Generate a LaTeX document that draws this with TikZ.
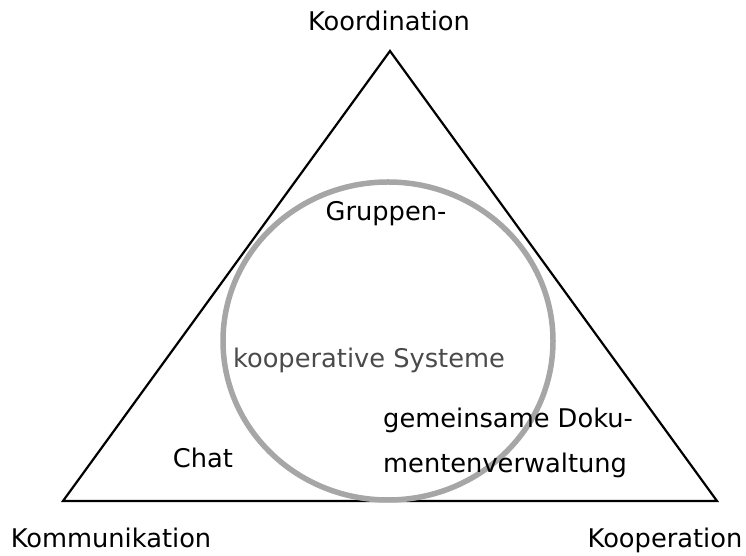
\documentclass[tikz,border=0pt]{standalone}
\usepackage{fontspec}
\setmainfont{DejaVu Sans}
\begin{document}
\begin{tikzpicture}[x=1pt,y=1pt,
  lbl/.style={font=\fontsize{25.7}{30}\selectfont, inner sep=0pt, text=black},
  tri/.style={draw=black, line width=2.2pt, line join=miter},
  ring/.style={draw=ringgray, line width=5.5pt}]
\definecolor{ringgray}{HTML}{A6A6A6}
\definecolor{textgray}{HTML}{4A4A4A}
\useasboundingbox (0,0) rectangle (746,556);
\coordinate (top) at (390,505);
\coordinate (bl) at (63,55);
\coordinate (br) at (717,55);
\draw[tri] (top) -- (bl) -- (br) -- cycle;
\draw[ring] (388,215) ellipse [x radius=165, y radius=159];
\node[lbl, anchor=base] (koord) at (389,525) {Koordination};
\node[lbl, anchor=base] (komm) at (111,8) {Kommunikation};
\node[lbl, anchor=base] (koop) at (665,8) {Kooperation};
\node[lbl, anchor=base] (grp) at (386,335) {Gruppen-};
\node[lbl, anchor=base, text=textgray] (ks) at (369,188) {kooperative Systeme};
\node[lbl, anchor=base west] (gem) at (383,128) {gemeinsame Doku-};
\node[lbl, anchor=base west] (mv) at (383,83) {mentenverwaltung};
\node[lbl, anchor=base] (chat) at (203,88) {Chat};
\end{tikzpicture}
\end{document}
